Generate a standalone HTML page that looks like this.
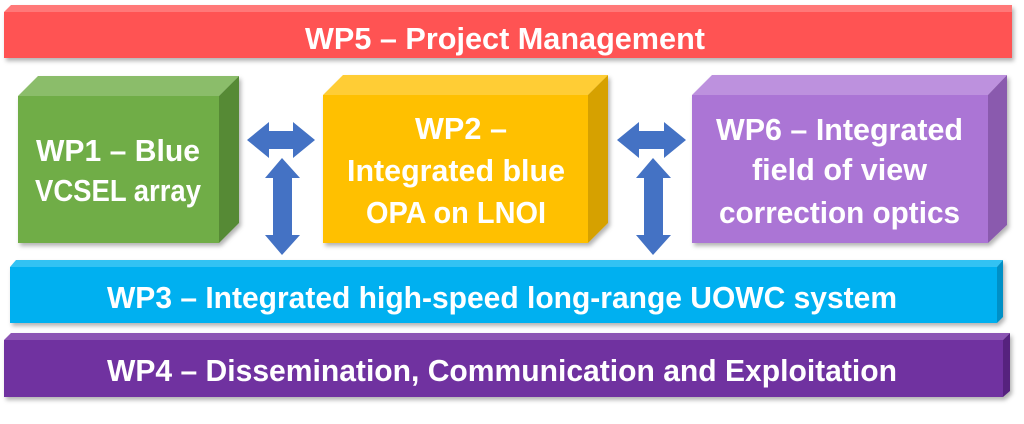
<!DOCTYPE html>
<html><head><meta charset="utf-8"><style>
html,body{margin:0;padding:0;background:#fff;width:1024px;height:424px;overflow:hidden}
text{font-family:"Liberation Sans",sans-serif;font-weight:bold;fill:#fff;font-size:31px}
</style></head><body>
<svg width="1024" height="424" viewBox="0 0 1024 424" xmlns="http://www.w3.org/2000/svg">
<defs><filter id="s" x="-5%" y="-5%" width="110%" height="120%"><feDropShadow dx="2" dy="3" stdDeviation="2" flood-color="#000" flood-opacity="0.3"/></filter></defs>
<g filter="url(#s)">
<polygon points="4,12 11,5 1012,5 1012,12" fill="#FF7878"/>
<rect x="4" y="12" width="1008" height="46" fill="#FF5252"/>
</g>
<text x="305" y="49" textLength="400" lengthAdjust="spacingAndGlyphs">WP5 – Project Management</text>
<g filter="url(#s)">
<polygon points="18,96 38,76 239,76 219,96" fill="#8BBD6A"/>
<polygon points="219,96 239,76 239,223 219,243" fill="#568A36"/>
<rect x="18" y="96" width="201" height="147" fill="#70AD47"/>
</g>
<text x="36" y="161" textLength="164" lengthAdjust="spacingAndGlyphs">WP1 – Blue</text>
<text x="35" y="201" textLength="166" lengthAdjust="spacingAndGlyphs">VCSEL array</text>
<g filter="url(#s)">
<polygon points="323,95 343,75 608,75 588,95" fill="#FFCD35"/>
<polygon points="588,95 608,75 608,223 588,243" fill="#D6A100"/>
<rect x="323" y="95" width="265" height="148" fill="#FFC000"/>
</g>
<text x="415" y="139" textLength="92" lengthAdjust="spacingAndGlyphs">WP2 –</text>
<text x="347" y="181" textLength="218" lengthAdjust="spacingAndGlyphs">Integrated blue</text>
<text x="366" y="223" textLength="180" lengthAdjust="spacingAndGlyphs">OPA on LNOI</text>
<g filter="url(#s)">
<polygon points="692,95 712,75 1007,75 988,95" fill="#BD91DE"/>
<polygon points="988,95 1007,75 1007,225 988,243" fill="#8A5AAE"/>
<rect x="692" y="95" width="296" height="148" fill="#AB75D5"/>
</g>
<text x="716" y="140" textLength="247" lengthAdjust="spacingAndGlyphs">WP6 – Integrated</text>
<text x="752" y="180" textLength="175" lengthAdjust="spacingAndGlyphs">field of view</text>
<text x="719" y="223" textLength="241" lengthAdjust="spacingAndGlyphs">correction optics</text>
<g fill="#4472C4">
<polygon points="247,140 269,122 269,131 293,131 293,122 315,140 293,158 293,149 269,149 269,158"/>
<polygon points="282,158 300,178 292,178 292,235 300,235 282,255 265,235 273,235 273,178 265,178"/>
<polygon points="617,140 639,122 639,131 664,131 664,122 686,140 664,158 664,149 639,149 639,158"/>
<polygon points="653,158 671,178 663,178 663,235 671,235 653,255 636,235 644,235 644,178 636,178"/>
</g>
<g filter="url(#s)">
<polygon points="10,267 16,260 1003,260 997,267" fill="#33C2F3"/>
<polygon points="997,267 1003,260 1003,317 997,323" fill="#0090C6"/>
<rect x="10" y="267" width="987" height="56" fill="#00B0F0"/>
</g>
<text x="107" y="308" textLength="790" lengthAdjust="spacingAndGlyphs">WP3 – Integrated high-speed long-range UOWC system</text>
<g filter="url(#s)">
<polygon points="4,340 11,333 1010,333 1003,340" fill="#8C55B4"/>
<polygon points="1003,340 1010,333 1010,391 1003,397" fill="#56237E"/>
<rect x="4" y="340" width="999" height="57" fill="#7030A0"/>
</g>
<text x="107" y="381" textLength="790" lengthAdjust="spacingAndGlyphs">WP4 – Dissemination, Communication and Exploitation</text>
</svg>
</body></html>
